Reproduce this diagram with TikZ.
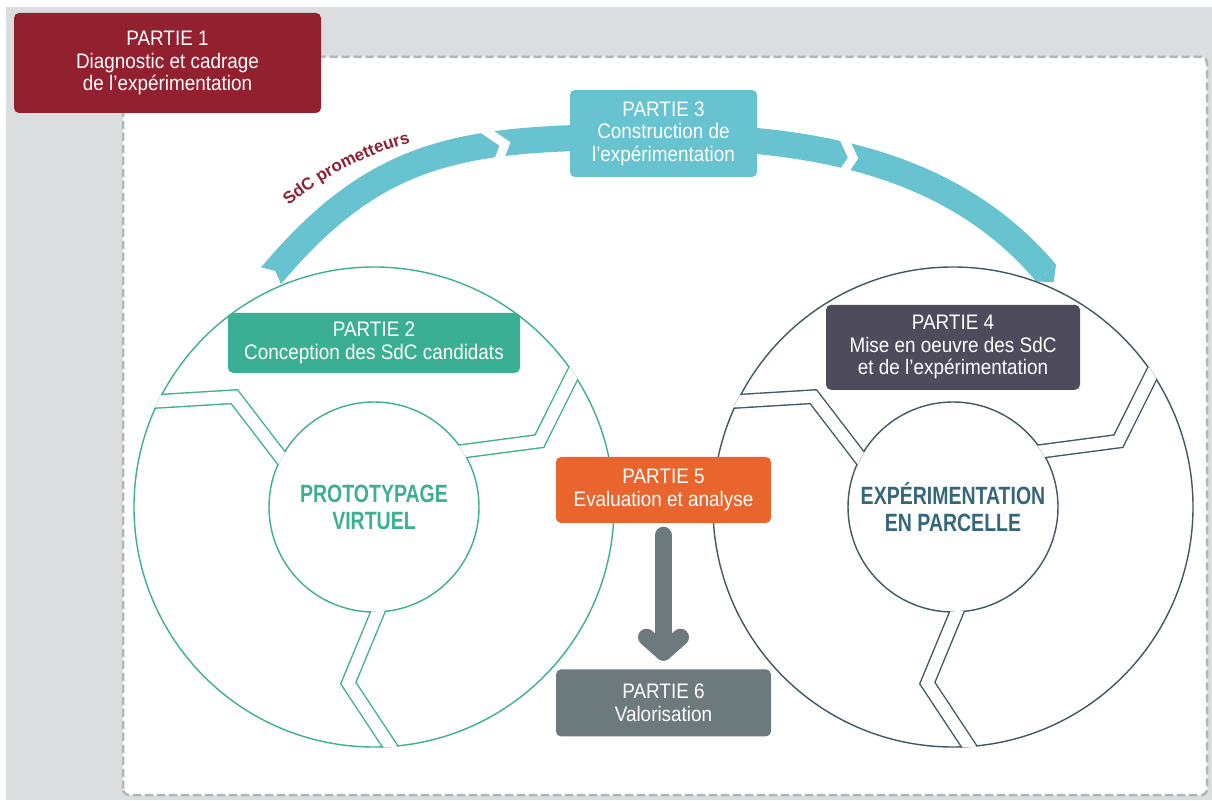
\documentclass[tikz,border=0pt]{standalone}
\usepackage{fontspec}
\setmainfont{Liberation Sans}[FakeStretch=0.9]
\newfontfamily\centrefont{Liberation Sans}[FakeStretch=0.78]
\newfontfamily\arcfont{Liberation Sans}
\usepackage{xcolor}
\definecolor{colorDiag}{HTML}{93202F}
\definecolor{colorConcept}{HTML}{3BAF94}
\definecolor{colorBuild}{HTML}{66C3CF}
\definecolor{colorSetup}{HTML}{4E4B5D}
\definecolor{colorEval}{HTML}{EA652E}
\definecolor{colorValor}{HTML}{6C797D}
\definecolor{colorProto}{HTML}{3DAF93}
\definecolor{colorParcel}{HTML}{3E5866}
\definecolor{colorParcelText}{HTML}{35667B}
\definecolor{colorBack}{HTML}{DCDDDF}
\definecolor{colorFrame}{HTML}{B1B6B9}
\definecolor{colorSdC}{HTML}{8E2234}
\usetikzlibrary{positioning, calc, decorations.text}
\newcommand{\boxfont}{\fontsize{21}{22.5}\selectfont}
\newcommand{\hubfont}{\centrefont\bfseries\fontsize{25}{27}\selectfont}
\newcommand{\sdcfont}{\arcfont\bfseries\fontsize{17}{17}\selectfont}
\tikzset{
  partbox/.style={rounded corners=5pt, inner sep=0pt, align=center, text=white, font=\boxfont},
  ringline/.style={line width=1.4pt},
  band/.style={draw=colorBuild, line width=26pt},
  notch/.style={draw=white, line width=9pt},
  valarrow/.style={draw=colorValor, line width=17pt, line cap=round, line join=round},
}

\begin{document}
\begin{tikzpicture}[x=1pt, y=1pt]
\useasboundingbox (0,0) rectangle (1212,800);
\fill[colorBack] (6,0) rectangle (1212,793);
\draw[fill=white, draw=colorFrame, line width=2.5pt, dash pattern=on 8pt off 4pt, rounded corners=6pt] (123,5) rectangle (1207,743);

% bandeau des SdC prometteurs
\draw[band] (270,523) .. controls (382,657) and (470,663) .. (663,663) .. controls (800,663) and (949.5,641.9) .. (1046,527);
\draw[notch] (483,671) -- (505,656) -- (495,630);
\draw[notch] (842,666) -- (853,642) -- (841,624);
\fill[white] (257.7,533.3) -- (275.1,529.1) -- (282.3,512.7) -- (266.8,519.2) -- cycle;
\fill[colorBuild] (1056,535.4) -- (1053.7,517.8) -- (1036,518.6) -- cycle;
\path[decorate, decoration={text along path, text={|\sdcfont|SdC prometteurs}, text color=colorSdC, text align=center}] (283,589) .. controls (318,622) and (370,648) .. (418,659);

% les deux roues
\foreach \cx/\ringcol in {374/colorProto, 953/colorParcel} {
  \begin{scope}[shift={(\cx,293)}]
    \draw[ringline, draw=\ringcol] (0,0) circle (240) (0,0) circle (105);
    \begin{scope}
      \clip (240.7,0) arc[start angle=0, end angle=360, radius=240.7] -- (104.3,0) arc[start angle=360, end angle=0, radius=104.3] -- cycle;
      \foreach \a in {34,154,274}
        \draw[ringline, draw=\ringcol, double=white, double distance=12pt]
          ($({\a-12.3}:178)!1.2!(\a:241)$) -- ({\a-12.3}:178) -- ($({\a-12.3}:178)!1.2!({\a-1.8}:104.5)$);
    \end{scope}
  \end{scope}
}
\coordinate (cProto) at (374,293);
\coordinate (cParcel) at (953,293);
\node[font=\hubfont, text=colorProto, align=center] (proto) at (cProto) {PROTOTYPAGE\\VIRTUEL};
\node[font=\hubfont, text=colorParcelText, align=center] (parcel) at (cParcel) {EXPÉRIMENTATION\\EN PARCELLE};

% les parties
\node[partbox, fill=colorConcept, minimum width=292pt, minimum height=60pt, above=134pt of cProto] (p2) {PARTIE 2\\Conception des SdC candidats};
\node[partbox, fill=colorBuild, minimum width=187pt, minimum height=87pt] (p3) at (663.5,666.5) {PARTIE 3\\Construction de\\l’expérimentation};
\node[partbox, fill=colorSetup, minimum width=254pt, minimum height=85pt, above=117pt of cParcel] (p4) {PARTIE 4\\Mise en oeuvre des SdC\\et de l’expérimentation};
\node[partbox, fill=colorEval, minimum width=215pt, minimum height=66pt] (p5) at (663.5,310) {PARTIE 5\\Evaluation et analyse};
\node[partbox, fill=colorValor, minimum width=215pt, minimum height=67pt, below=146pt of p5] (p6) {PARTIE 6\\Valorisation};
\node[partbox, fill=colorDiag, minimum width=307pt, minimum height=100pt] (p1) at (167.5,737) {PARTIE 1\\Diagnostic et cadrage\\de l’expérimentation};

\draw[valarrow] ([yshift=-12pt]p5.south) -- ([yshift=17pt]p6.north);
\draw[valarrow] ([xshift=-17pt, yshift=32pt]p6.north) -- ([yshift=17pt]p6.north) -- ([xshift=17pt, yshift=32pt]p6.north);
\end{tikzpicture}
\end{document}
